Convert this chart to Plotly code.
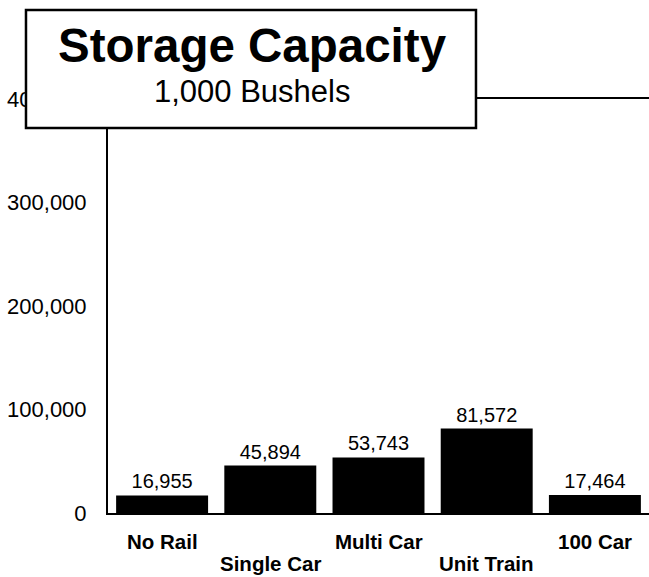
import plotly.graph_objects as go

categories = ["No Rail", "Single Car", "Multi Car", "Unit Train", "100 Car"]
capacity = [16955, 45894, 53743, 81572, 17464]
y_ticks = [0, 100000, 200000, 300000, 400000]
y_tick_labels = ["0", "100,000", "200,000", "300,000", "400,000"]
title_text = "Storage Capacity"
subtitle_text = "1,000 Bushels"

FONT = "Liberation Sans, Arial, Helvetica, sans-serif"

fig = go.Figure(
    go.Bar(
        x=categories,
        y=capacity,
        marker=dict(color="black", line=dict(width=0)),
        text=[f"{v:,}" for v in capacity],
        textposition="outside",
        textfont=dict(family=FONT, size=20, color="black"),
        constraintext="none",
        cliponaxis=False,
        hoverinfo="skip",
    )
)

fig.update_layout(
    width=649,
    height=577,
    autosize=False,
    margin=dict(l=108, r=0, t=99, b=64),
    paper_bgcolor="white",
    plot_bgcolor="white",
    bargap=0.15,
    showlegend=False,
    font=dict(family=FONT, color="black"),
)

fig.update_xaxes(
    type="category",
    categoryorder="array",
    categoryarray=categories,
    showticklabels=False,
    showline=True,
    linecolor="black",
    linewidth=2,
    mirror=True,
    showgrid=False,
    ticks="",
)

fig.update_yaxes(
    range=[0, 400000],
    tickvals=y_ticks,
    ticktext=y_tick_labels,
    tickfont=dict(family=FONT, size=22, color="black"),
    showline=True,
    linecolor="black",
    linewidth=2,
    showgrid=False,
    zeroline=False,
    ticks="",
    ticklabelstandoff=15,
)

# category labels, alternating between two rows under the axis
for i, cat in enumerate(categories):
    fig.add_annotation(
        text=cat,
        x=cat, xref="x",
        y=-0.068 if i % 2 == 0 else -0.122, yref="paper",
        xanchor="center", yanchor="middle",
        showarrow=False,
        font=dict(family=FONT, size=20.5, color="black", weight="bold"),
    )

# title box (white, bordered) covering the top-left of the plot
fig.add_shape(
    type="rect",
    xref="paper", yref="paper",
    x0=-0.1516, x1=0.6802, y0=0.930, y1=1.215,
    fillcolor="white",
    line=dict(color="black", width=2.5),
    layer="above",
)

fig.add_annotation(
    text=title_text,
    xref="paper", yref="paper",
    x=0.2662, y=1.1292,
    xanchor="center", yanchor="middle",
    showarrow=False,
    font=dict(family=FONT, size=47.5, color="black", weight="bold"),
)
fig.add_annotation(
    text=subtitle_text,
    xref="paper", yref="paper",
    x=0.2662, y=1.0193,
    xanchor="center", yanchor="middle",
    showarrow=False,
    font=dict(family=FONT, size=31, color="black"),
)

fig.write_html("out.html", config={"displayModeBar": False})

# remove the browser's default body margin so the figure fills the window exactly
with open("out.html", "r", encoding="utf-8") as f:
    html = f.read()
html = html.replace("<body>", '<body style="margin:0;padding:0;overflow:hidden;">', 1)
with open("out.html", "w", encoding="utf-8") as f:
    f.write(html)
